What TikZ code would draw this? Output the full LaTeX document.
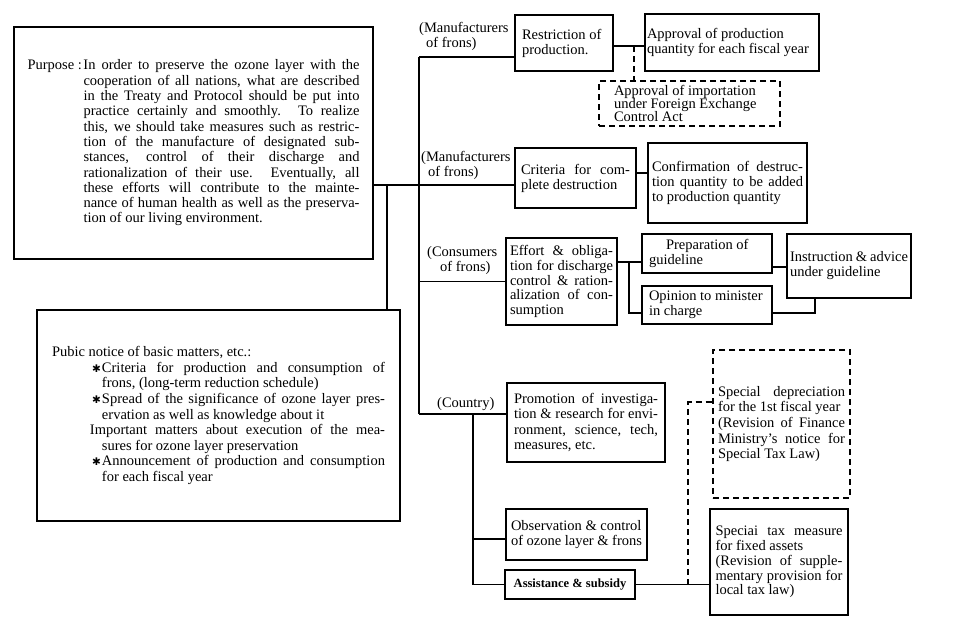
\documentclass[tikz,border=0pt]{standalone}
\usepackage{fontspec}
\setmainfont{Liberation Serif}
\newfontfamily\symfont{DejaVu Sans}
\newcommand{\jst}[1]{\makebox[\linewidth][s]{\spaceskip=0pt\xspaceskip=0pt #1}}
\newcommand{\jw}[2]{\makebox[#1][s]{\spaceskip=0pt\xspaceskip=0pt #2}}
\newcommand{\bul}{\makebox[10pt][l]{\symfont\fontsize{10.5}{10}\selectfont ✱}}
\begin{document}
\begin{tikzpicture}[x=1pt,y=-1pt,
  every node/.style={font=\fontsize{14.5}{15}\selectfont, inner sep=0pt},
  box/.style={draw, line width=1.1pt, align=justify},
  dbox/.style={box, dash pattern=on 6pt off 4pt},
  conn/.style={line width=1.1pt},
  dconn/.style={line width=1.1pt, dash pattern=on 6pt off 4pt},
  lbl/.style={align=left, anchor=west}]
\useasboundingbox (0,0) rectangle (970,629);

% left boxes
\node[box, minimum width=359pt, minimum height=232pt, text width=332pt,
      font=\fontsize{14.5}{15.3}\selectfont] (purpose) at (193.5,143)
{\makebox[56pt][l]{Purpose\ :}\parbox[t]{276pt}{%
\jst{In order to preserve the ozone layer with the}\\
\jst{cooperation of all nations, what are described}\\
\jst{in the Treaty and Protocol should be put into}\\
\jst{practice certainly and smoothly. To realize}\\
\jst{this, we should take measures such as restric-}\\
\jst{tion of the manufacture of designated sub-}\\
\jst{stances, control of their discharge and}\\
\jst{rationalization of their use. Eventually, all}\\
\jst{these efforts will contribute to the mainte-}\\
\jst{nance of human health as well as the preserva-}\\
tion of our living environment.}};

\node[box, minimum width=363pt, minimum height=211pt, text width=333pt,
      font=\fontsize{14.5}{15.6}\selectfont] (notice) at (218.5,415.5)
{Pubic notice of basic matters, etc.:\\
\hspace*{40pt}\bul\jw{283pt}{Criteria for production and consumption of}\\
\hspace*{50pt}frons, (long-term reduction schedule)\\
\hspace*{40pt}\bul\jw{283pt}{Spread of the significance of ozone layer pres-}\\
\hspace*{50pt}ervation as well as knowledge about it\\
\hspace*{38pt}\jw{295pt}{Important matters about execution of the mea-}\\
\hspace*{50pt}sures for ozone layer preservation\\
\hspace*{40pt}\bul\jw{283pt}{Announcement of production and consumption}\\
\hspace*{50pt}for each fiscal year};

% manufacturers row 1
\node[box, minimum width=98pt, minimum height=56pt, text width=84pt] (restr) at (564,43)
{Restriction of\\production.};
\node[box, minimum width=174pt, minimum height=57pt, text width=170pt] (approv) at (732,42.5)
{Approval of production\\quantity for each fiscal year};
\node[dbox, minimum width=181pt, minimum height=45pt, text width=151pt,
      font=\fontsize{14.5}{13.2}\selectfont] (importd) at (689.5,103.5)
{Approval of importation\\under Foreign Exchange\\Control Act};

% manufacturers row 2
\node[box, minimum width=121pt, minimum height=60pt, text width=109pt] (crit) at (575.5,178)
{\jst{Criteria for com-}\\plete destruction};
\node[box, minimum width=159pt, minimum height=80pt, text width=151pt] (confirm) at (727.5,183)
{\jst{Confirmation of destruc-}\\\jst{tion quantity to be added}\\to production quantity};

% consumers row
\node[box, minimum width=111pt, minimum height=87pt, text width=103pt,
      font=\fontsize{14.5}{14.7}\selectfont] (effort) at (561.5,281.5)
{\jst{Effort \& obliga-}\\\jst{tion for discharge}\\\jst{control \& ration-}\\\jst{alization of con-}\\sumption};
\node[box, minimum width=130pt, minimum height=39pt, text width=116pt] (prep) at (707,253.5)
{\hspace*{17pt}Preparation of\\guideline};
\node[box, minimum width=130pt, minimum height=38pt, text width=116pt] (opinion) at (707,305)
{Opinion to minister\\in charge};
\node[box, minimum width=124pt, minimum height=64pt, text width=118pt] (instr) at (849,266)
{Instruction \& advice\\under guideline};

% country
\node[box, minimum width=158pt, minimum height=79pt, text width=144pt,
      font=\fontsize{14.5}{15.3}\selectfont] (promo) at (586,422.5)
{\jst{Promotion of investiga-}\\\jst{tion \& research for envi-}\\\jst{ronment, science, tech,}\\measures, etc.};
\node[box, minimum width=141pt, minimum height=51pt, text width=131pt] (observ) at (576.5,534.5)
{Observation \& control\\of ozone layer \& frons};
\node[box, minimum width=130pt, minimum height=29pt, align=center,
      font=\fontsize{12.5}{14}\selectfont\bfseries] (assist) at (570,584.5)
{Assistance \& subsidy};
\node[dbox, minimum width=137pt, minimum height=148pt, text width=127pt,
      font=\fontsize{14.5}{15.7}\selectfont] (deprec) at (781.5,424)
{\jst{Special depreciation}\\for the 1st fiscal year\\\jst{(Revision of Finance}\\\jst{Ministry's notice for}\\Special Tax Law)};
\node[box, minimum width=138pt, minimum height=106pt, text width=127pt,
      font=\fontsize{14.5}{14.8}\selectfont] (taxm) at (779,562)
{\jst{Speciai tax measure}\\for fixed assets\\\jst{(Revision of supple-}\\\jst{mentary provision for}\\local tax law)};

% labels
\node[lbl] (lm1) at (419,36.5) {(Manufacturers\\\hspace*{7pt}of frons)};
\node[lbl] (lm2) at (421,165.5) {(Manufacturers\\\hspace*{7pt}of frons)};
\node[lbl] (lc) at (427,261) {(Consumers\\\hspace*{13pt}of frons)};
\node[lbl] (lk) at (437,404) {(Country)};

% coordinates
\coordinate (tTop) at (419,57);
\coordinate (tCons) at (419,281.5);
\coordinate (tCty) at (419,414);
\coordinate (pR) at (373,185);
\coordinate (nT) at (387,185);
\coordinate (sTop) at (473,414);
\coordinate (sObs) at (473,539);
\coordinate (dA) at (688,584.5);
\coordinate (dB) at (713,402);
\coordinate (rA) at (613,46);
\coordinate (rD) at (634,46);
\coordinate (cA) at (636,173);
\coordinate (eA) at (617,262);
\coordinate (eB) at (629,262);
\coordinate (eC) at (642,313);
\coordinate (pA) at (772,267);
\coordinate (oA) at (772,313);
\coordinate (oB) at (815,298);

% connectors
\draw[conn] (tTop) -- (tCty);
\draw[conn] (tTop) -- (tTop -| restr.west);
\draw[conn] (pR) -- (pR -| crit.west);
\draw[conn] (nT) -- (nT |- notice.north);
\draw[conn] (tCons) -- (tCons -| effort.west);
\draw[conn] (tCty) -- (tCty -| promo.west);
\draw[conn] (sTop) |- (assist.west);
\draw[conn] (sObs) -- (sObs -| observ.west);
\draw[conn] (assist.east) -- (assist.east -| taxm.west);
\draw[dconn] (dA) |- (dB);
\draw[conn] (rA) -- (rA -| approv.west);
\draw[dconn] (rD) -- (rD |- importd.north);
\draw[conn] (cA) -- (cA -| confirm.west);
\draw[conn] (eA) -- (eA -| prep.west);
\draw[conn] (eB) |- (eC);
\draw[conn] (pA) -- (pA -| instr.west);
\draw[conn] (oA) -| (oB);
\end{tikzpicture}
\end{document}
